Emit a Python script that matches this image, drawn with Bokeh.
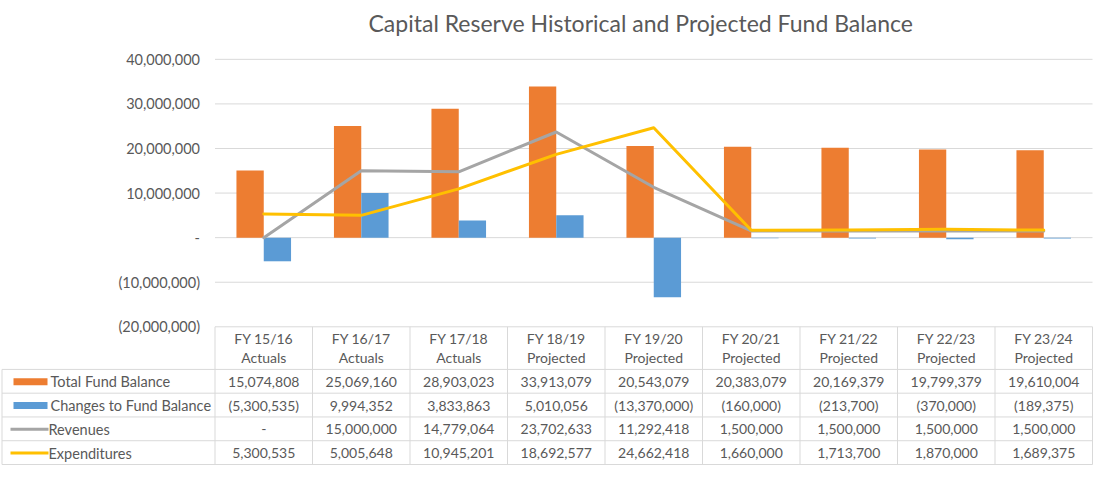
from bokeh.plotting import figure
from bokeh.models import Range1d, ColumnDataSource
from bokeh.transform import dodge
from bokeh.core.properties import value
from bokeh.embed import file_html
from bokeh.resources import INLINE

# ---------------- data ----------------
years = ["FY 15/16", "FY 16/17", "FY 17/18", "FY 18/19", "FY 19/20",
         "FY 20/21", "FY 21/22", "FY 22/23", "FY 23/24"]
kinds = ["Actuals", "Actuals", "Actuals", "Projected", "Projected",
         "Projected", "Projected", "Projected", "Projected"]
total_fund_balance = [15074808, 25069160, 28903023, 33913079, 20543079,
                      20383079, 20169379, 19799379, 19610004]
changes_to_fund_balance = [-5300535, 9994352, 3833863, 5010056, -13370000,
                           -160000, -213700, -370000, -189375]
revenues = [0, 15000000, 14779064, 23702633, 11292418,
            1500000, 1500000, 1500000, 1500000]
expenditures = [5300535, 5005648, 10945201, 18692577, 24662418,
                1660000, 1713700, 1870000, 1689375]
series_names = ["Total Fund Balance", "Changes to Fund Balance", "Revenues", "Expenditures"]
y_ticks = [-20000000, -10000000, 0, 10000000, 20000000, 30000000, 40000000]
title_text = "Capital Reserve Historical and Projected Fund Balance"

# ---------------- style ----------------
ORANGE = "#ed7d31"
BLUE = "#5b9bd5"
GRAY = "#a5a5a5"
GOLD = "#ffc000"
TXT = "#595959"
GRID = "#d9d9d9"
FONT = value("Lato")

W, H = 1094, 465
COL_W = 97.5           # width of one category (px)
RIGHT_PAD = 2
LABEL_W = W - 9 * COL_W - RIGHT_PAD   # width of the table's label column (px)
PX10M = 45.0           # px per 10,000,000
TOP_PAD = 17           # px between frame top and the highest gridline
HEADER_H = 43
ROW_H = 24
TOP_BORDER = 38
upp = 1e7 / PX10M      # y data units per pixel
px = 1.0 / COL_W       # x data units per pixel


def fmt(v):
    if v == 0:
        return "-"
    if v < 0:
        return "({:,})".format(-v)
    return "{:,}".format(v)


n = len(years)
frame_h = H - TOP_BORDER
y_end = y_ticks[-1] + TOP_PAD * upp
y_start = y_end - frame_h * upp
x0 = -LABEL_W * px

p = figure(width=W, height=H, output_backend="svg", toolbar_location=None,
           x_range=Range1d(x0, n + RIGHT_PAD * px), y_range=Range1d(y_start, y_end),
           x_axis_location=None, y_axis_location=None,
           min_border_left=0, min_border_right=0,
           min_border_top=TOP_BORDER, min_border_bottom=0)
p.outline_line_color = None
p.xgrid.grid_line_color = None
p.ygrid.grid_line_color = None

p.title.text = title_text
p.title.align = "left"
p.title.offset = 368
p.title.text_font = "Lato"
p.title.text_font_size = "23px"
p.title.text_font_style = "normal"
p.title.text_color = TXT
p.title.standoff = 12

# value-axis gridlines and labels
p.segment(x0=[0] * len(y_ticks), x1=[n] * len(y_ticks), y0=y_ticks, y1=y_ticks,
          line_color=GRID, line_width=1)
p.text(x=[-15 * px] * len(y_ticks), y=y_ticks, text=[fmt(v) for v in y_ticks],
       text_font=FONT, text_font_size="14.5px", text_color=TXT,
       text_align="right", text_baseline="middle")

src = ColumnDataSource(dict(xc=[i + 0.5 for i in range(n)],
                            total=total_fund_balance,
                            change=changes_to_fund_balance,
                            rev=revenues, exp=expenditures,
                            year=years, kind=kinds))

p.vbar(x=dodge("xc", -0.14), top="total", bottom=0, width=0.28, source=src,
       fill_color=ORANGE, line_color=None)
p.vbar(x=dodge("xc", 0.14), top="change", bottom=0, width=0.28, source=src,
       fill_color=BLUE, line_color=None)
p.line(x="xc", y="rev", source=src, line_color=GRAY, line_width=3,
       line_join="round", line_cap="round")
p.line(x="xc", y="exp", source=src, line_color=GOLD, line_width=3,
       line_join="round", line_cap="round")

# ---------------- data table ----------------
y_tab = y_ticks[0]                       # table top = lowest gridline
nrows = len(series_names)


def ty(pix):
    """table position: pixels below the table top -> y data units"""
    return y_tab - pix * upp


right_edge = n
left_edge = x0 + 1.5 * px
# header cells
p.segment(x0=list(range(n + 1)), x1=list(range(n + 1)),
          y0=[ty(0)] * (n + 1), y1=[ty(HEADER_H)] * (n + 1),
          line_color=GRID, line_width=1)
p.text(x="xc", y=ty(12), text="year", source=src, text_font=FONT,
       text_font_size="14px", text_color=TXT, text_align="center",
       text_baseline="middle")
p.text(x="xc", y=ty(31), text="kind", source=src, text_font=FONT,
       text_font_size="14px", text_color=TXT, text_align="center",
       text_baseline="middle")

# body rows
hy = [ty(HEADER_H + r * ROW_H) for r in range(nrows + 1)]
p.segment(x0=[left_edge] * len(hy), x1=[right_edge] * len(hy), y0=hy, y1=hy,
          line_color=GRID, line_width=1)
vx = [left_edge] + list(range(n + 1))
p.segment(x0=vx, x1=vx, y0=[hy[0]] * len(vx), y1=[hy[-1]] * len(vx),
          line_color=GRID, line_width=1)

series_values = [total_fund_balance, changes_to_fund_balance, revenues, expenditures]
row_y = [ty(HEADER_H + r * ROW_H + ROW_H / 2 + 0.5) for r in range(nrows)]
cx, cy, ct = [], [], []
for r, vals in enumerate(series_values):
    for i, v in enumerate(vals):
        cx.append(i + 0.5)
        cy.append(row_y[r])
        ct.append(fmt(v))
p.text(x=cx, y=cy, text=ct, text_font=FONT, text_font_size="14px",
       text_color=TXT, text_align="center", text_baseline="middle")

lab_x = [x0 + 50 * px, x0 + 50 * px, x0 + 48 * px, x0 + 48 * px]
p.text(x=lab_x, y=row_y, text=series_names, text_font=FONT,
       text_font_size="14.5px", text_color=TXT, text_align="left",
       text_baseline="middle")

# legend keys
key_cx = x0 + 30 * px
p.rect(x=[key_cx, key_cx], y=row_y[:2], width=34 * px, height=7 * upp,
       fill_color=[ORANGE, BLUE], line_color=None)
p.segment(x0=[x0 + 10 * px] * 2, x1=[x0 + 48 * px] * 2,
          y0=row_y[2:], y1=row_y[2:], line_color=[GRAY, GOLD], line_width=3)

open("out.html", "w").write(file_html(p, INLINE))
